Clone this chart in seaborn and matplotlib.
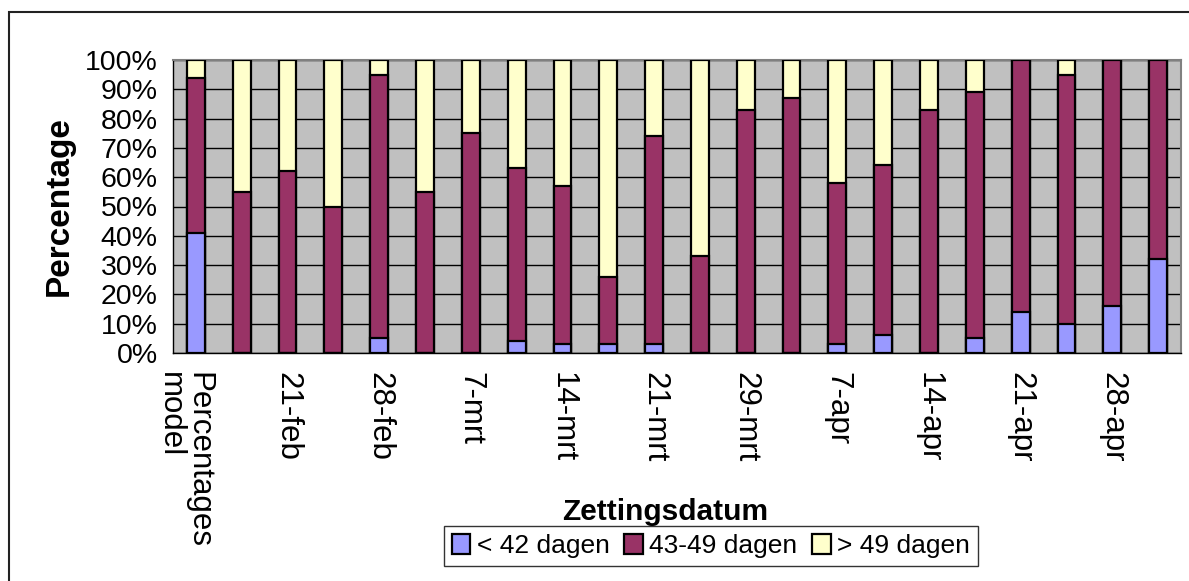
import numpy as np
import pandas as pd
import matplotlib
matplotlib.use("Agg")
import matplotlib.pyplot as plt
import matplotlib.transforms as mtransforms
import seaborn as sns
from matplotlib.patches import Patch, Rectangle

# data per zettingsdatum (percentages)
tick_labels = ["Percentages\nmodel", "21-feb", "28-feb", "7-mrt", "14-mrt", "21-mrt",
               "29-mrt", "7-apr", "14-apr", "21-apr", "28-apr"]
minder_42 = [41, 0, 0, 0, 5, 0, 0, 4, 3, 3, 3, 0, 0, 0, 3, 6, 0, 5, 14, 10, 16, 32]
dagen_43_49 = [53, 55, 62, 50, 90, 55, 75, 59, 54, 23, 71, 33, 83, 87, 55, 58, 83, 84, 86, 85, 84, 68]
meer_49 = [6, 45, 38, 50, 5, 45, 25, 37, 43, 74, 26, 67, 17, 13, 42, 36, 17, 11, 0, 5, 0, 0]

series = ["< 42 dagen", "43-49 dagen", "> 49 dagen"]
kleuren = ["#9999FF", "#993366", "#FFFFCC"]

df = pd.DataFrame({"pos": np.arange(len(minder_42)),
                   "a": minder_42, "b": dagen_43_49, "c": meer_49})
df["ab"] = df["a"] + df["b"]
df["abc"] = df["ab"] + df["c"]

sns.set_style("white")
plt.rcParams["font.family"] = ["Liberation Sans", "DejaVu Sans"]
plt.rcParams["text.color"] = "black"
plt.rcParams["axes.labelcolor"] = "black"
plt.rcParams["xtick.color"] = "black"
plt.rcParams["ytick.color"] = "black"

fig = plt.figure(figsize=(11.89, 5.81), dpi=100)
ax = fig.add_axes([173 / 1189, 1 - 353 / 581, (1181 - 173) / 1189, (353 - 60) / 581])
ax.set_facecolor("#C0C0C0")

# stacked bars: draw cumulative totals from top to bottom
for kol, kleur in zip(["abc", "ab", "a"], kleuren[::-1]):
    sns.barplot(data=df, x="pos", y=kol, color=kleur, width=0.39, native_scale=True,
                edgecolor="black", linewidth=1.6, saturation=1, ax=ax, zorder=3)

ax.set_xlim(-0.5, len(df) - 0.5)
ax.set_ylim(0, 100)
ax.set_yticks(np.arange(0, 101, 10))
ax.set_yticklabels([f"{v}%" for v in range(0, 101, 10)], fontsize=20.5)
ax.yaxis.grid(True, color="black", linewidth=1)
ax.set_axisbelow(True)

ax.set_xticks(np.arange(0, len(df), 2))
ax.set_xticklabels(tick_labels, rotation=270, fontsize=22.5, va="top", ha="center",
                   multialignment="left", linespacing=0.95)
ax.set_xticks(np.arange(-0.5, len(df), 1), minor=True)
ax.tick_params(axis="x", which="major", length=0, pad=14)
ax.tick_params(axis="x", which="minor", length=7, width=1, color="black", direction="out")
ax.tick_params(axis="y", length=7, width=1, color="black", direction="out", pad=4)

# first label (two lines) sits slightly left of its bar
eerste = ax.get_xticklabels()[0]
eerste.set_transform(eerste.get_transform()
                     + mtransforms.ScaledTranslation(-12 / 100, 0, fig.dpi_scale_trans))

for s in ["top", "right"]:
    ax.spines[s].set_color("#808080")
    ax.spines[s].set_linewidth(1.5)
for s in ["left", "bottom"]:
    ax.spines[s].set_color("black")
    ax.spines[s].set_linewidth(1)

ax.set_xlabel("")
ax.set_ylabel("Percentage", fontsize=24, fontweight="bold")
ax.yaxis.set_label_coords(-0.097, 0.5)

fig.text(665 / 1189, 1 - 512 / 581, "Zettingsdatum", ha="center", va="center",
         fontsize=21.5, fontweight="bold")

handles = [Patch(facecolor=k, edgecolor="black", linewidth=1.6) for k in kleuren]
leg = fig.legend(handles, series, loc="center", bbox_to_anchor=(711 / 1189, 1 - 546 / 581),
                 ncol=3, frameon=True, fancybox=False, edgecolor="black",
                 handlelength=0.7, handleheight=0.8, handletextpad=0.25,
                 columnspacing=0.55, borderpad=0.3, borderaxespad=0,
                 prop={"size": 19})
leg.get_frame().set_linewidth(1)

# outer chart frame
fig.patches.append(Rectangle((9 / 1189, -0.1), 1.2, 1.1 - 12 / 581, transform=fig.transFigure,
                             fill=False, edgecolor="#222222", linewidth=1.5))

fig.savefig("out.png", dpi=100)
